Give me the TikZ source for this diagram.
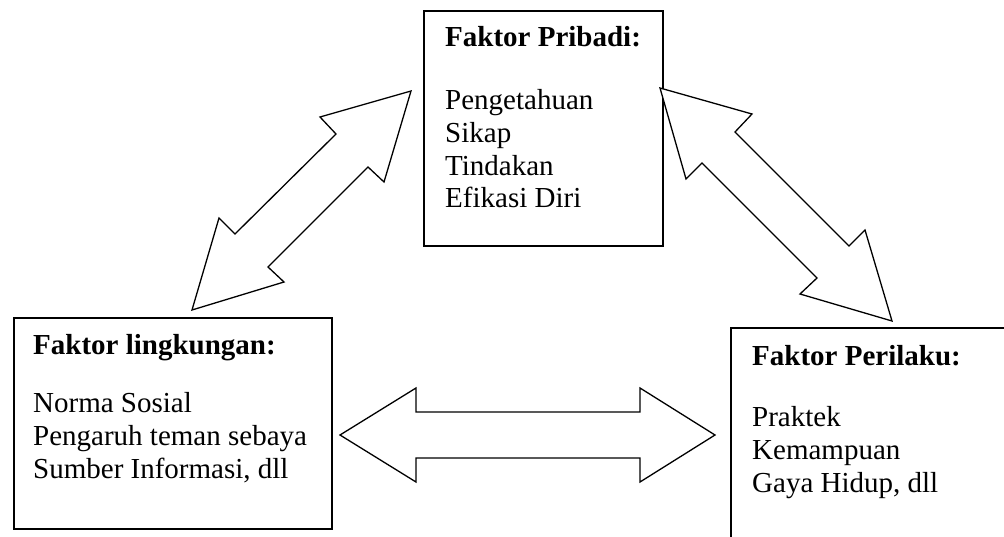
\documentclass[tikz,border=0pt]{standalone}
\usepackage{fontspec}
\setmainfont{Liberation Serif}
\begin{document}
\begin{tikzpicture}[x=1pt,y=-1pt,
  box/.style={draw, line width=1.6pt, inner sep=0pt, anchor=north west},
  ttl/.style={anchor=base west, inner sep=0pt, font=\fontsize{29}{32.7}\selectfont\bfseries},
  body/.style={anchor=base west, inner sep=0pt, align=left, font=\fontsize{29}{32.7}\selectfont},
  barrow/.style={draw, line width=1.3pt, fill=white, line join=miter}]
\useasboundingbox (0,0) rectangle (1004,537);
\clip (0,0) rectangle (1004,537);
% boxes
\node[box, minimum width=239pt, minimum height=235pt] (pribadi) at (423,10) {};
\node[box, minimum width=318pt, minimum height=211pt] (lingkungan) at (13,317) {};
\node[box, minimum width=290pt, minimum height=230pt] (perilaku) at (730,327) {};
% texts (body nodes anchored at the baseline of their last line)
\node[ttl] (t1) at (445,47) {Faktor Pribadi:};
\node[body] (b1) at (445,208) {Pengetahuan\\Sikap\\Tindakan\\Efikasi Diri};
\node[ttl] (t2) at (33,354) {Faktor lingkungan:};
\node[body] (b2) at (33,478) {Norma Sosial\\Pengaruh teman sebaya\\Sumber Informasi, dll};
\node[ttl] (t3) at (752,365) {Faktor Perilaku:};
\node[body] (b3) at (752,492) {Praktek\\Kemampuan\\Gaya Hidup, dll};
% block arrows
\draw[barrow] (411,91) -- (320,117) -- (336,134) -- (235,234) -- (219,218) -- (192,310)
  -- (284,282) -- (268,267) -- (368,167) -- (384,182) -- cycle;
\draw[barrow] (660,88) -- (752,114) -- (735,132) -- (849,246) -- (865,230) -- (892,321)
  -- (800,294) -- (817,278) -- (702,163) -- (686,179) -- cycle;
\draw[barrow] (340,435) -- (416,388) -- (416,412) -- (640,412) -- (640,388) -- (715,435)
  -- (640,482) -- (640,458) -- (416,458) -- (416,482) -- cycle;
\end{tikzpicture}
\end{document}
